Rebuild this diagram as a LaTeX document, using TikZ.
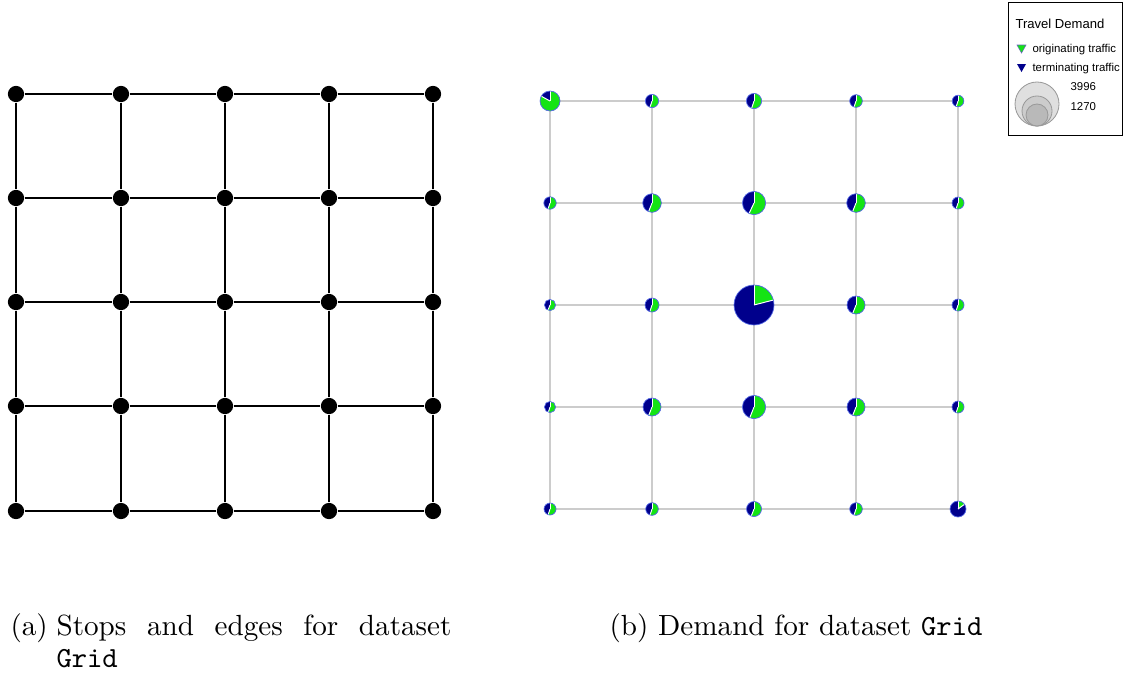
\documentclass[tikz,border=0pt]{standalone}
\usepackage{fontspec}
\newfontfamily\arialfont{Liberation Sans}
\definecolor{pienavy}{RGB}{0,0,140}
\definecolor{piegreen}{RGB}{20,228,20}
\definecolor{gridgray}{RGB}{204,204,204}
\definecolor{pieedge}{RGB}{90,110,230}
\tikzset{
  stopdot/.style={circle,fill=black,inner sep=0pt,minimum size=5.9pt},
  stopedge/.style={line width=0.75pt,black},
  demedge/.style={line width=0.38pt,gridgray},
  legtext/.style={font=\arialfont\fontsize{4.15}{5}\selectfont,anchor=west,inner sep=0pt},
  legcirc/.style={draw=gray!80,line width=0.3pt},
  captext/.style={font=\fontsize{10.6}{12.7}\selectfont,inner sep=0pt},
}
\begin{document}
\begin{tikzpicture}[x=0.36364pt,y=0.36364pt]
\useasboundingbox (0,0) rectangle (1124,-673);
% ---------- (a) stops and edges ----------
\foreach \i/\xx in {1/16,2/121,3/225,4/329,5/433}
  \foreach \j/\yy in {1/94,2/198,3/302,4/406,5/511}
    \node[stopdot] (s\i\j) at (\xx,-\yy) {};
\foreach \k in {1,...,5} {
  \draw[stopedge] (s1\k) -- (s2\k) -- (s3\k) -- (s4\k) -- (s5\k);
  \draw[stopedge] (s\k1) -- (s\k2) -- (s\k3) -- (s\k4) -- (s\k5);
}
% ---------- (b) demand ----------
\foreach \i/\xx in {1/550,2/652,3/754,4/856,5/958}
  \foreach \j/\yy in {1/101,2/203,3/305,4/407,5/509}
    \coordinate (q\i\j) at (\xx,-\yy);
\foreach \k in {1,...,5} {
  \draw[demedge] (q1\k) -- (q2\k) -- (q3\k) -- (q4\k) -- (q5\k);
  \draw[demedge] (q\k1) -- (q\k2) -- (q\k3) -- (q\k4) -- (q\k5);
}
\foreach \i/\j/\r/\f in {
  1/1/10/0.83, 2/1/6.6/0.55, 3/1/7.6/0.55, 4/1/6.3/0.55, 5/1/5.8/0.55,
  1/2/6.2/0.55, 2/2/9.3/0.56, 3/2/11.6/0.57, 4/2/9.3/0.56, 5/2/6/0.55,
  1/3/5.6/0.56, 2/3/7/0.55, 3/3/20/0.21, 4/3/9/0.56, 5/3/6/0.55,
  1/4/5.6/0.55, 2/4/9/0.56, 3/4/11.6/0.56, 4/4/9/0.56, 5/4/6/0.55,
  1/5/6/0.55, 2/5/6.3/0.55, 3/5/7.5/0.56, 4/5/6.3/0.55, 5/5/8/0.15} {
  \fill[pienavy] (q\i\j) circle[radius=\r];
  \fill[piegreen] (q\i\j) -- ++(90:\r) arc[start angle=90,end angle={90-360*\f},radius=\r] -- cycle;
  \draw[white,line width=0.35pt] (q\i\j) -- ++(90:\r);
  \draw[white,line width=0.35pt] (q\i\j) -- ++({90-360*\f}:\r);
  \draw[pieedge,line width=0.25pt] (q\i\j) circle[radius=\r];
}
% ---------- legend ----------
\draw[black,line width=0.35pt,fill=white] (1008,-2) rectangle (1122,-135);
\node[legtext,font=\arialfont\fontsize{4.75}{6}\selectfont] (lt) at (1015,-23.5) {Travel Demand};
\fill[piegreen,draw=pienavy!60,line width=0.2pt] (1017,-45) -- (1026,-45) -- (1021.5,-53) -- cycle;
\node[legtext] (lo) at (1032,-49.5) {originating traffic};
\fill[pienavy] (1017,-64) -- (1026,-64) -- (1021.5,-72) -- cycle;
\node[legtext] (lm) at (1032,-68.5) {terminating traffic};
\node[legtext] (l1) at (1070,-86.5) {3996};
\node[legtext] (l2) at (1070,-106.5) {1270};
\filldraw[legcirc,fill=gray!25] (1037,-104) circle[radius=22];
\filldraw[legcirc,fill=gray!40] (1037,-111) circle[radius=15];
\filldraw[legcirc,fill=gray!55] (1037,-115) circle[radius=11];
% ---------- captions ----------
\node[captext,anchor=base west] (capa) at (10,-635) {(a)};
\node[captext,anchor=base west] (capa1) at (56,-635) {\makebox[143.6pt][s]{Stops and edges for dataset}};
\node[captext,anchor=base west] (capa2) at (56,-667) {\texttt{Grid}};
\node[captext,anchor=base] (capb) at (796,-635) {(b) Demand for dataset \texttt{Grid}};
\end{tikzpicture}
\end{document}
